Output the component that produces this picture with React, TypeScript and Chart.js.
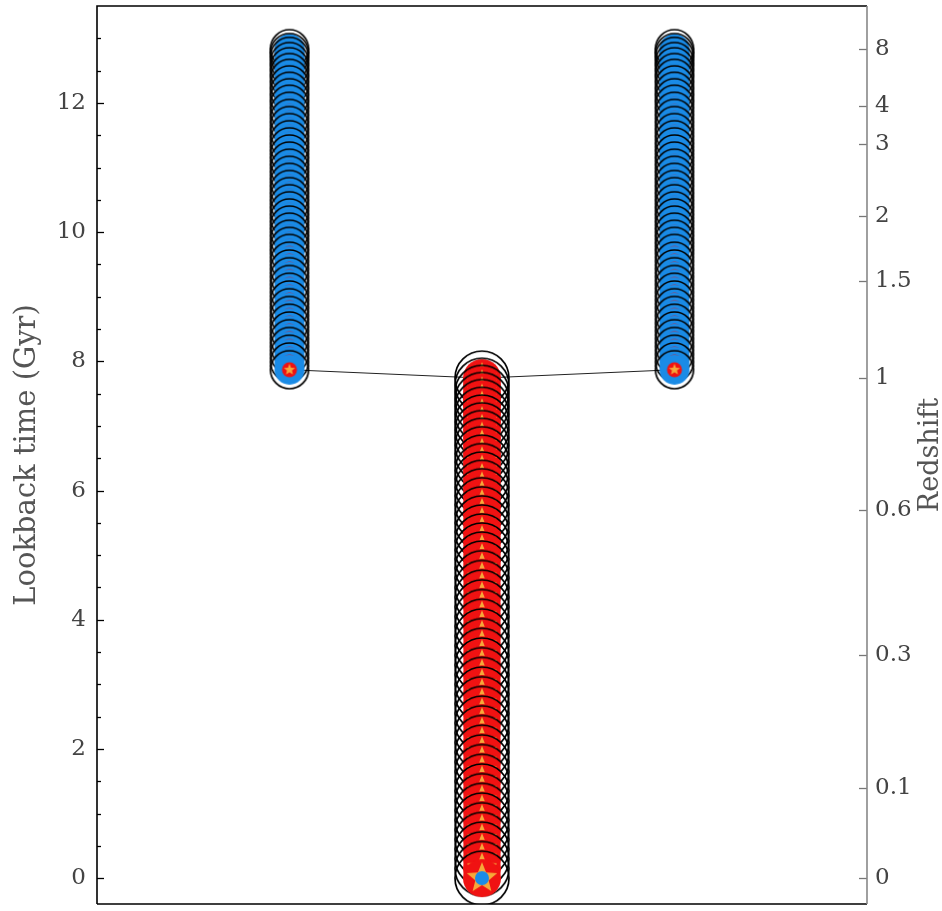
import React, { useEffect, useRef } from 'react';
import { Chart, registerables } from 'chart.js';

Chart.register(...registerables);

// ---------------- data ----------------
// Lookback times (Gyr) of the snapshots along each branch of the merger tree
const mainBranchGyr = [
  0, 0.15, 0.30, 0.45, 0.60, 0.75, 0.90, 1.05, 1.20, 1.35, 1.50, 1.65, 1.80, 1.95,
  2.10, 2.25, 2.40, 2.55, 2.70, 2.85, 3.00, 3.15, 3.30, 3.45, 3.60, 3.75, 3.90,
  4.05, 4.20, 4.35, 4.50, 4.65, 4.80, 4.94, 5.08, 5.22, 5.36, 5.50, 5.64, 5.78,
  5.92, 6.05, 6.18, 6.31, 6.44, 6.57, 6.70, 6.82, 6.94, 7.06, 7.18, 7.30, 7.41,
  7.52, 7.63, 7.74,
];
const leftBranchGyr = [
  7.87, 7.99, 8.11, 8.23, 8.35, 8.47, 8.59, 8.71, 8.83, 8.95, 9.07, 9.19, 9.31,
  9.43, 9.55, 9.67, 9.78, 9.89, 10.00, 10.11, 10.22, 10.33, 10.44, 10.55, 10.66,
  10.77, 10.88, 10.99, 11.10, 11.21, 11.32, 11.43, 11.54, 11.65, 11.76, 11.87,
  11.98, 12.08, 12.18, 12.28, 12.38, 12.47, 12.56, 12.64, 12.72, 12.78, 12.84,
];
const rightBranchGyr = [
  7.87, 7.99, 8.11, 8.23, 8.35, 8.47, 8.59, 8.71, 8.83, 8.95, 9.07, 9.19, 9.31,
  9.43, 9.55, 9.67, 9.78, 9.89, 10.00, 10.11, 10.22, 10.33, 10.44, 10.55, 10.66,
  10.77, 10.88, 10.99, 11.10, 11.21, 11.32, 11.43, 11.54, 11.65, 11.76, 11.87,
  11.98, 12.08, 12.18, 12.28, 12.38, 12.47, 12.56, 12.64, 12.72, 12.78, 12.84,
];
// horizontal slot of each branch
const branchSlots = { left: 1, main: 2, right: 3 };

// axis ticks
const lookbackTicks = [0, 2, 4, 6, 8, 10, 12];
const lookbackMinorTicks = [
  0, 0.5, 1, 1.5, 2, 2.5, 3, 3.5, 4, 4.5, 5, 5.5, 6, 6.5, 7, 7.5, 8, 8.5, 9, 9.5,
  10, 10.5, 11, 11.5, 12, 12.5, 13,
];
const redshiftLabels = ['0', '0.1', '0.3', '0.6', '1', '1.5', '2', '3', '4', '8'];
const redshiftGyr = [0, 1.39, 3.45, 5.70, 7.74, 9.24, 10.25, 11.37, 11.95, 12.84];

// ---------------- styles ----------------
const FONT = '"DejaVu Serif", serif';
const BLUE = '#1a8be6';
const RED = '#f01212';
const ORANGE = '#f6a83a';

type Layer = { kind: 'ring' | 'disc' | 'star'; r: number; r2?: number; color: string };
const MAIN_MARKER: Layer[] = [
  { kind: 'ring', r: 27, color: '#000' },
  { kind: 'disc', r: 19, color: RED },
  { kind: 'star', r: 16, r2: 7, color: ORANGE },
  { kind: 'disc', r: 7, color: BLUE },
];
const BRANCH_MARKER: Layer[] = [
  { kind: 'ring', r: 19, color: '#000' },
  { kind: 'disc', r: 15, color: BLUE },
  { kind: 'disc', r: 7.5, color: RED },
  { kind: 'star', r: 6, r2: 2.6, color: ORANGE },
];

function makeSprite(layers: Layer[]): HTMLCanvasElement {
  const maxR = Math.max(...layers.map((l) => l.r));
  const size = Math.ceil(maxR * 2 + 4) + (Math.ceil(maxR * 2 + 4) % 2);
  const c = document.createElement('canvas');
  c.width = size;
  c.height = size;
  const g = c.getContext('2d')!;
  const m = size / 2;
  for (const l of layers) {
    g.beginPath();
    if (l.kind === 'ring') {
      g.arc(m, m, l.r, 0, Math.PI * 2);
      g.lineWidth = 1.7;
      g.strokeStyle = l.color;
      g.stroke();
      continue;
    }
    if (l.kind === 'disc') {
      g.arc(m, m, l.r, 0, Math.PI * 2);
    } else {
      for (let i = 0; i < 10; i++) {
        const a = -Math.PI / 2 + (i * Math.PI) / 5;
        const rr = i % 2 === 0 ? l.r : (l.r2 as number);
        g.lineTo(m + rr * Math.cos(a), m + rr * Math.sin(a));
      }
      g.closePath();
    }
    g.fillStyle = l.color;
    g.fill();
  }
  return c;
}

const framePlugin = {
  id: 'frame',
  afterDraw(chart: any) {
    const { ctx, chartArea: a, scales } = chart;
    const yl = scales.y;
    ctx.save();
    ctx.lineCap = 'butt';
    // left ticks (inward)
    ctx.strokeStyle = '#000';
    ctx.lineWidth = 1.3;
    for (const v of lookbackMinorTicks) {
      const py = Math.round(yl.getPixelForValue(v)) + 0.5;
      const len = lookbackTicks.includes(v) ? 7 : 4;
      ctx.beginPath();
      ctx.moveTo(a.left, py);
      ctx.lineTo(a.left + len, py);
      ctx.stroke();
    }
    // right ticks (inward)
    ctx.strokeStyle = '#777';
    for (const v of redshiftGyr) {
      const py = Math.round(yl.getPixelForValue(v)) + 0.5;
      ctx.beginPath();
      ctx.moveTo(a.right - 8, py);
      ctx.lineTo(a.right, py);
      ctx.stroke();
    }
    // frame
    ctx.lineWidth = 1.6;
    ctx.strokeStyle = '#000';
    ctx.beginPath();
    ctx.moveTo(a.left, a.bottom);
    ctx.lineTo(a.left, a.top);
    ctx.lineTo(a.right, a.top);
    ctx.moveTo(a.left, a.bottom);
    ctx.lineTo(a.right, a.bottom);
    ctx.stroke();
    ctx.strokeStyle = '#888';
    ctx.beginPath();
    ctx.moveTo(a.right, a.top);
    ctx.lineTo(a.right, a.bottom);
    ctx.stroke();
    // right axis title, reading bottom-to-top
    const yr = scales.y2;
    ctx.translate(yr.right - 11, (a.top + a.bottom) / 2);
    ctx.rotate(-Math.PI / 2);
    ctx.fillStyle = '#555';
    ctx.font = `27px ${FONT}`;
    ctx.textAlign = 'center';
    ctx.textBaseline = 'middle';
    ctx.fillText('Redshift', 0, 0);
    ctx.restore();
  },
};

export default function App() {
  const ref = useRef<HTMLCanvasElement | null>(null);

  useEffect(() => {
    if (!ref.current) return;
    const mainSprite = makeSprite(MAIN_MARKER);
    const branchSprite = makeSprite(BRANCH_MARKER);
    const toPts = (arr: number[], x: number) =>
      [...arr].sort((p, q) => q - p).map((t) => ({ x, y: t }));

    const linkPts = [
      { x: branchSlots.left, y: Math.min(...leftBranchGyr) },
      { x: branchSlots.main, y: Math.max(...mainBranchGyr) },
      { x: branchSlots.right, y: Math.min(...rightBranchGyr) },
    ];

    const chart = new Chart(ref.current, {
      type: 'scatter',
      data: {
        datasets: [
          {
            data: toPts(leftBranchGyr, branchSlots.left),
            pointStyle: branchSprite as any,
            pointRadius: 2,
            order: 0,
          },
          {
            data: toPts(rightBranchGyr, branchSlots.right),
            pointStyle: branchSprite as any,
            pointRadius: 2,
            order: 0,
          },
          {
            data: toPts(mainBranchGyr, branchSlots.main),
            pointStyle: mainSprite as any,
            pointRadius: 2,
            order: 0,
          },
          {
            data: linkPts,
            showLine: true,
            borderColor: '#222',
            borderWidth: 1,
            pointRadius: 0,
            order: 5,
          } as any,
        ],
      },
      options: {
        animation: false,
        responsive: true,
        maintainAspectRatio: false,
        events: [],
        layout: { padding: { top: 6, bottom: 7, left: 0, right: 0 } },
        plugins: { legend: { display: false }, tooltip: { enabled: false } },
        scales: {
          x: { type: 'linear', display: false, min: 0, max: 4 },
          y: {
            type: 'linear',
            position: 'left',
            min: -0.4,
            max: 13.5,
            grid: { display: false, drawTicks: false },
            border: { display: false },
            afterBuildTicks: (s: any) => {
              s.ticks = lookbackTicks.map((v) => ({ value: v }));
            },
            afterFit: (s: any) => {
              s.width = 97;
              s.paddingTop = 0;
              s.paddingBottom = 0;
            },
            ticks: {
              padding: 11,
              color: '#444',
              font: { family: FONT, size: 23 },
            },
            title: {
              display: true,
              text: 'Lookback time (Gyr)',
              color: '#555',
              font: { family: FONT, size: 29 },
              padding: { top: 10, bottom: 0 },
            },
          },
          y2: {
            type: 'linear',
            position: 'right',
            min: -0.4,
            max: 13.5,
            grid: { display: false, drawTicks: false },
            border: { display: false },
            afterBuildTicks: (s: any) => {
              s.ticks = redshiftGyr.map((v) => ({ value: v }));
            },
            afterFit: (s: any) => {
              s.width = 75;
              s.paddingTop = 0;
              s.paddingBottom = 0;
            },
            ticks: {
              padding: 8,
              color: '#444',
              font: { family: FONT, size: 23 },
              callback: (_v: any, i: number) => redshiftLabels[i],
            },
          },
        },
      },
      plugins: [framePlugin],
    });
    return () => chart.destroy();
  }, []);

  return (
    <div style={{ position: 'fixed', left: 0, top: 0, width: 942, height: 911 }}>
      <canvas ref={ref} />
    </div>
  );
}
